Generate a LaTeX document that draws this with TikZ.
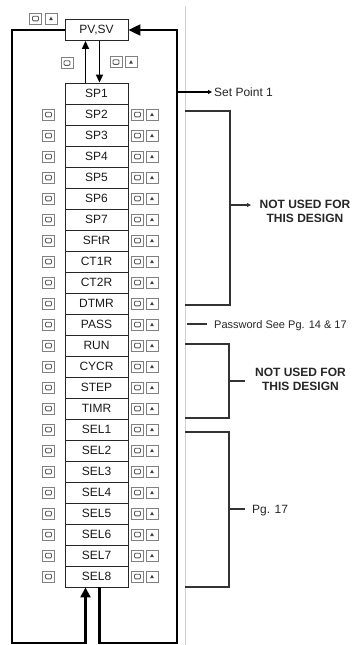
\documentclass[tikz,border=0pt]{standalone}
\usepackage{fontspec}
\setmainfont{Liberation Sans}
\usetikzlibrary{arrows.meta}

\tikzset{
	menu/.style={draw=black!85, line width=0.9pt, minimum width=63pt, minimum height=21pt, inner sep=0pt, text=black!90, font=\fontsize{12}{13}\selectfont},
	keycap/.style={draw=black!50, line width=0.8pt, fill=white, minimum width=12pt, minimum height=11pt, inner sep=0pt},
	loopline/.style={line width=2.2pt, line join=miter},
	bracket/.style={line width=1.4pt, draw=black!80},
	note/.style={anchor=base west, inner sep=0pt, text=black!85, font=\fontsize{12}{14}\selectfont},
	bignote/.style={anchor=north, align=center, inner sep=0pt, text=black!85, font=\bfseries\fontsize{12}{14}\selectfont},
}

\newcommand{\scrollkey}[2]{%
	\node[keycap] (#1) at (#2) {};
	\draw[black!65, line width=0.9pt, rounded corners=1pt] ([shift={(-3pt,-2.3pt)}]#1.center) rectangle ([shift={(3pt,2.3pt)}]#1.center);
}
\newcommand{\upkey}[2]{%
	\node[keycap] (#1) at (#2) {};
	\fill[black!75] ([shift={(-1.8pt,-1.5pt)}]#1.center) -- ([shift={(1.8pt,-1.5pt)}]#1.center) -- ([shift={(0pt,1.8pt)}]#1.center) -- cycle;
}

\begin{document}
\begin{tikzpicture}[x=1pt, y=-1pt]
	\useasboundingbox (0,0) rectangle (351,645);
	%page edge
	\draw[black!18, line width=0.8pt] (185.5,6) -- (185.5,645);

	%Display
	\node[menu] (pvsv) at (96.5,30) {PV,SV};
	\scrollkey{kt1}{35.5,18.5}
	\upkey{kt2}{51,18.5}

	%Menu list
	\foreach \lab [count=\i from 0] in {SP1,SP2,SP3,SP4,SP5,SP6,SP7,SFtR,CT1R,CT2R,DTMR,PASS,RUN,CYCR,STEP,TIMR,SEL1,SEL2,SEL3,SEL4,SEL5,SEL6,SEL7,SEL8}{
		\node[menu] (\lab) at (96.5, 93.5 + 21*\i) {\lab};
		\ifnum\i>0
			\scrollkey{kl\i}{48.5, 93.5 + 21*\i}
			\scrollkey{kr\i}{137.5, 93.5 + 21*\i}
			\upkey{ku\i}{152, 93.5 + 21*\i}
		\fi
	}

	%Display <-> SP1
	\draw[line width=1.8pt, -{Triangle[length=8pt,width=7pt]}] ([xshift=-11pt]SP1.north) -- ([xshift=-11pt]pvsv.south);
	\draw[line width=1.8pt, -{Triangle[length=8pt,width=7pt]}] ([xshift=3pt]pvsv.south) -- ([xshift=3pt]SP1.north);
	\scrollkey{km1}{67,63}
	\scrollkey{km2}{116,62}
	\upkey{km3}{131,62}

	%Loops
	\coordinate (tl) at (12,30);
	\coordinate (bl) at (12,643);
	\coordinate (br) at (177,643);
	\coordinate (tr) at (177,30);
	\draw[loopline, -{Triangle[length=10pt,width=10pt]}] (pvsv.west) -- (tl) -- (bl) -| ([xshift=-11pt]SEL8.south);
	\draw[loopline, -{Triangle[length=12pt,width=11pt]}] ([xshift=3pt]SEL8.south) |- (br) -- (tr) -- (pvsv.east);

	%Notes
	\node[note] (setpt) at (214,96.3) {Set Point 1};
	\draw[line width=1.3pt, -{Triangle[length=4pt,width=4pt]}] (tr |- 0,92) -- (212,92);

	\coordinate (b1t) at (185,111);
	\coordinate (b1b) at (185,305);
	\coordinate (b1m) at (230,205);
	\coordinate (b1e) at (251,205);
	\draw[bracket] (b1t) -| (b1m) |- (b1b);
	\draw[bracket, -{Triangle[length=4pt,width=4pt]}] (b1m) -- (b1e);
	\node[bignote] (unused1) at (305,199.7) {NOT USED FOR\\THIS DESIGN};

	\coordinate (pwa) at (187,324);
	\coordinate (pwb) at (207,324);
	\draw[bracket] (pwa) -- (pwb);
	\node[note, font=\fontsize{11}{13}\selectfont] (pass) at (214,328) {Password See Pg. 14 \& 17};

	\coordinate (b2t) at (185,344);
	\coordinate (b2b) at (185,418);
	\coordinate (b2m) at (229,381);
	\coordinate (b2e) at (245,381);
	\draw[bracket] (b2t) -| (b2m) |- (b2b);
	\draw[bracket] (b2m) -- (b2e);
	\node[bignote] (unused2) at (300.5,367.7) {NOT USED FOR\\THIS DESIGN};

	\coordinate (b3t) at (185,432);
	\coordinate (b3b) at (185,587);
	\coordinate (b3m) at (229,509);
	\coordinate (b3e) at (245,509);
	\draw[bracket] (b3t) -| (b3m) |- (b3b);
	\draw[bracket] (b3m) -- (b3e);
	\node[note] (pg) at (252,513.3) {Pg. 17};
\end{tikzpicture}
\end{document}
